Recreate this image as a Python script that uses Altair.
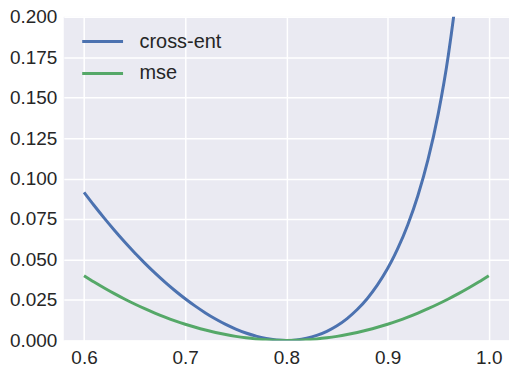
import altair as alt
import pandas as pd

# x positions (probability), step 0.01
p_ce = [0.60, 0.61, 0.62, 0.63, 0.64, 0.65, 0.66, 0.67, 0.68, 0.69,
        0.70, 0.71, 0.72, 0.73, 0.74, 0.75, 0.76, 0.77, 0.78, 0.79,
        0.80, 0.81, 0.82, 0.83, 0.84, 0.85, 0.86, 0.87, 0.88, 0.89,
        0.90, 0.91, 0.92, 0.93, 0.94, 0.95, 0.96, 0.97, 0.98]
cross_ent = [0.09151, 0.08335, 0.07554, 0.06807, 0.06095, 0.05419, 0.04777, 0.04170, 0.03601, 0.03069,
             0.02573, 0.02116, 0.01699, 0.01323, 0.00989, 0.00700, 0.00457, 0.00262, 0.00119, 0.00031,
             0.00000, 0.00032, 0.00132, 0.00305, 0.00560, 0.00904, 0.01348, 0.01905, 0.02592, 0.03428,
             0.04440, 0.05664, 0.07145, 0.08951, 0.11178, 0.13978, 0.17603, 0.22528, 0.29816]

p_mse = [0.60, 0.61, 0.62, 0.63, 0.64, 0.65, 0.66, 0.67, 0.68, 0.69,
         0.70, 0.71, 0.72, 0.73, 0.74, 0.75, 0.76, 0.77, 0.78, 0.79,
         0.80, 0.81, 0.82, 0.83, 0.84, 0.85, 0.86, 0.87, 0.88, 0.89,
         0.90, 0.91, 0.92, 0.93, 0.94, 0.95, 0.96, 0.97, 0.98, 0.99, 1.00]
mse = [0.0400, 0.0361, 0.0324, 0.0289, 0.0256, 0.0225, 0.0196, 0.0169, 0.0144, 0.0121,
       0.0100, 0.0081, 0.0064, 0.0049, 0.0036, 0.0025, 0.0016, 0.0009, 0.0004, 0.0001,
       0.0000, 0.0001, 0.0004, 0.0009, 0.0016, 0.0025, 0.0036, 0.0049, 0.0064, 0.0081,
       0.0100, 0.0121, 0.0144, 0.0169, 0.0196, 0.0225, 0.0256, 0.0289, 0.0324, 0.0361, 0.0400]

series_names = ["cross-ent", "mse"]
series_colors = ["#4C72B0", "#55A868"]

x_ticks = [0.6, 0.7, 0.8, 0.9, 1.0]
y_ticks = [0.0, 0.025, 0.05, 0.075, 0.1, 0.125, 0.15, 0.175, 0.2]

df = pd.concat([
    pd.DataFrame({"p": p_ce, "loss": cross_ent, "series": series_names[0]}),
    pd.DataFrame({"p": p_mse, "loss": mse, "series": series_names[1]}),
])

FONT = "Liberation Sans"
TXT = "#262626"

chart = alt.Chart(df).mark_line(strokeWidth=3, clip=True, interpolate="monotone").encode(
    x=alt.X("p:Q", scale=alt.Scale(domain=[0.58, 1.02], nice=False, zero=False),
            axis=alt.Axis(values=x_ticks, format=".1f", title=None)),
    y=alt.Y("loss:Q", scale=alt.Scale(domain=[0, 0.2], nice=False),
            axis=alt.Axis(values=y_ticks, format=".3f", title=None, labelPadding=7)),
    color=alt.Color("series:N",
                    scale=alt.Scale(domain=series_names, range=series_colors),
                    legend=alt.Legend(title=None, orient="none", legendX=17, legendY=3,
                                      symbolType="stroke", symbolSize=1681,
                                      symbolStrokeWidth=3, labelFontSize=20,
                                      labelFont=FONT, labelColor=TXT, labelOffset=15,
                                      rowPadding=-15, padding=0)),
    detail="series:N",
    order="p:Q",
).properties(
    width=447, height=325,
    background="white",
    autosize=alt.AutoSizeParams(type="none"),
    padding={"left": 56, "top": 8, "right": 0, "bottom": 30},
).configure_view(
    fill="#EAEAF2", stroke=None
).configure_axis(
    grid=True, gridColor="white", gridWidth=1.5,
    domain=False, ticks=False,
    labelFont=FONT, labelFontSize=19, labelColor=TXT, labelPadding=8,
)

chart.save("out.html", embed_options={"renderer": "svg", "actions": False})
